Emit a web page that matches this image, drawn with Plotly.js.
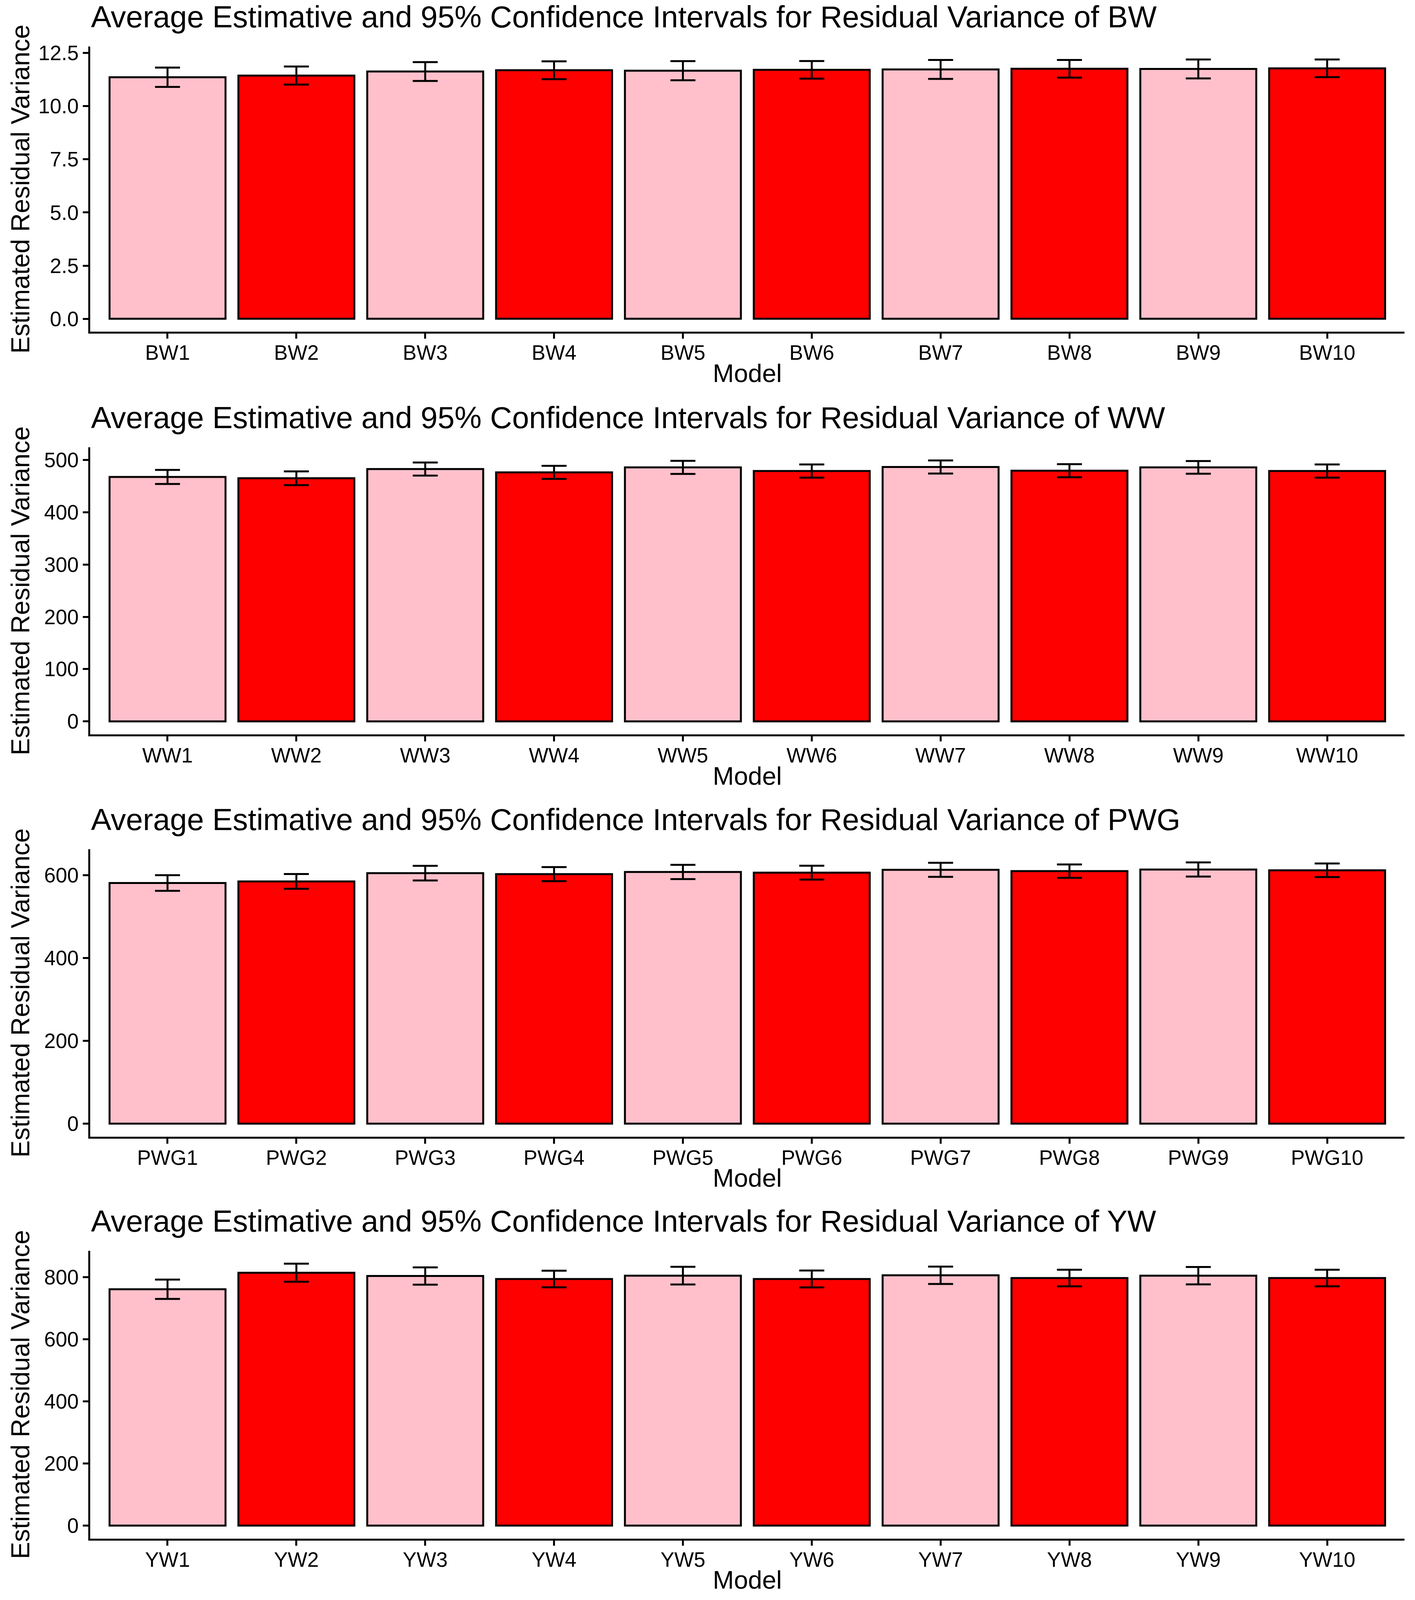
<!DOCTYPE html>
<html>
<head>
<meta charset="utf-8">
<script src="https://cdn.plot.ly/plotly-3.0.1.min.js"></script>
<style>html,body{margin:0;padding:0;background:#fff;overflow:hidden;}#chart{width:3623px;}</style>
</head>
<body>
<div id="chart"></div>
<script>
// ---- data ----
const bwModels  = ["BW1","BW2","BW3","BW4","BW5","BW6","BW7","BW8","BW9","BW10"];
const bwMeans   = [11.36, 11.44, 11.63, 11.69, 11.67, 11.71, 11.73, 11.76, 11.75, 11.78];
const bwErr     = [0.455, 0.425, 0.445, 0.42, 0.45, 0.415, 0.445, 0.415, 0.445, 0.415];

const wwModels  = ["WW1","WW2","WW3","WW4","WW5","WW6","WW7","WW8","WW9","WW10"];
const wwMeans   = [467.5, 465.0, 482.6, 476.3, 485.8, 478.8, 486.5, 479.4, 485.8, 478.8];
const wwErr     = [13.4, 13.1, 12.5, 12.55, 12.55, 12.65, 12.5, 12.55, 12.2, 12.65];

const pwgModels = ["PWG1","PWG2","PWG3","PWG4","PWG5","PWG6","PWG7","PWG8","PWG9","PWG10"];
const pwgMeans  = [581.2, 585.1, 605.1, 602.8, 607.9, 606.2, 613.1, 609.9, 613.9, 612.0];
const pwgErr    = [18.8, 17.8, 17.7, 17.0, 17.3, 16.8, 17.0, 16.2, 17.0, 16.4];

const ywModels  = ["YW1","YW2","YW3","YW4","YW5","YW6","YW7","YW8","YW9","YW10"];
const ywMeans   = [760.8, 814.0, 803.4, 793.8, 804.6, 793.8, 805.7, 796.9, 804.6, 796.9];
const ywErr     = [31.1, 29.0, 27.9, 26.6, 28.5, 27.2, 27.9, 26.6, 28.0, 26.6];

const traitNames = ["BW", "WW", "PWG", "YW"];
const fillColors = ["#FFC0CB", "#FF0000"];
const yAxisTitle = "Estimated Residual Variance";
const xAxisTitle = "Model";

// ---- layout constants (reference frame 3623 x 4522) ----
const W = 3623, REF_H = 4522;
// the visible window may be shorter than the reference; fit everything into it
const H = Math.min(REF_H, window.innerHeight || REF_H);
const s = H / REF_H;
const shiftUp = H < REF_H ? 4 : 0;
document.getElementById("chart").style.height = H + "px";
const FONT = "Liberation Sans, Arial, Helvetica, sans-serif";
const panelTops = [136, 1269, 2405, 3539];
const panelBottoms = [942, 2080, 3217, 4353];
const xLeft = 231, xRight = 3596;
const yTicks = [2.5, 100, 200, 200];
const yFormats = [".1f", "d", "d", "d"];

const fy = px => 1 - px / H;   // screen px (from top) -> paper fraction

const panels = [
  {models: bwModels, means: bwMeans, err: bwErr},
  {models: wwModels, means: wwMeans, err: wwErr},
  {models: pwgModels, means: pwgMeans, err: pwgErr},
  {models: ywModels, means: ywMeans, err: ywErr}
];

const data = [];
const layout = {
  width: W, height: H,
  margin: {l: 0, r: 0, t: 0, b: 0},
  paper_bgcolor: "#fff", plot_bgcolor: "#fff",
  showlegend: false,
  font: {family: FONT, color: "#000"},
  annotations: []
};

panels.forEach((p, i) => {
  const n = i + 1;
  const xa = n === 1 ? "x" : "x" + n;
  const ya = n === 1 ? "y" : "y" + n;
  data.push({
    type: "bar",
    x: p.models,
    y: p.means,
    width: 0.9,
    xaxis: xa, yaxis: ya,
    marker: {
      color: p.models.map((_, j) => fillColors[j % 2]),
      line: {color: "#000", width: 5}
    },
    error_y: {
      type: "data", array: p.err, visible: true,
      color: "#000", thickness: 5, width: 32
    },
    hoverinfo: "x+y"
  });
  const upper = p.means.map((m, j) => m + p.err[j]);
  const ymax = Math.max(...upper);
  const top = panelTops[i] * s - shiftUp, bottom = panelBottoms[i] * s - shiftUp;
  const xKey = n === 1 ? "xaxis" : "xaxis" + n;
  const yKey = n === 1 ? "yaxis" : "yaxis" + n;
  layout[xKey] = {
    domain: [xLeft / W, xRight / W],
    anchor: ya,
    type: "category",
    range: [-0.6, p.models.length - 0.4],
    showline: true, linecolor: "#000", linewidth: 5,
    ticks: "outside", ticklen: 13, tickwidth: 5, tickcolor: "#000",
    ticklabelstandoff: -10,
    tickfont: {size: 53, color: "#000", family: FONT},
    showgrid: false, zeroline: false, fixedrange: true
  };
  layout[yKey] = {
    domain: [fy(bottom), fy(top)],
    anchor: xa,
    range: [-0.05 * ymax, 1.05 * ymax],
    dtick: yTicks[i], tick0: 0,
    tickformat: yFormats[i],
    showline: true, linecolor: "#000", linewidth: 5,
    ticks: "outside", ticklen: 14, tickwidth: 5, tickcolor: "#000",
    tickfont: {size: 53, color: "#000", family: FONT},
    showgrid: false, zeroline: false, fixedrange: true
  };
  // plot title
  layout.annotations.push({
    xref: "paper", yref: "paper",
    x: xLeft / W, xanchor: "left",
    y: fy(top - 30), yanchor: "bottom",
    text: "Average Estimative and 95% Confidence Intervals for Residual Variance of " + traitNames[i],
    showarrow: false,
    font: {size: 78, color: "#000", family: FONT}
  });
  // y axis title
  layout.annotations.push({
    xref: "paper", yref: "paper",
    x: 52 / W, xanchor: "center",
    y: fy((top + bottom) / 2), yanchor: "middle",
    text: yAxisTitle, textangle: -90,
    showarrow: false,
    font: {size: 66, color: "#000", family: FONT}
  });
  // x axis title
  layout.annotations.push({
    xref: "paper", yref: "paper",
    x: ((xLeft + xRight) / 2) / W, xanchor: "center",
    y: fy(bottom + 106), yanchor: "middle",
    text: xAxisTitle,
    showarrow: false,
    font: {size: 65, color: "#000", family: FONT}
  });
});

Plotly.newPlot("chart", data, layout, {staticPlot: true, displayModeBar: false});
</script>
</body>
</html>
